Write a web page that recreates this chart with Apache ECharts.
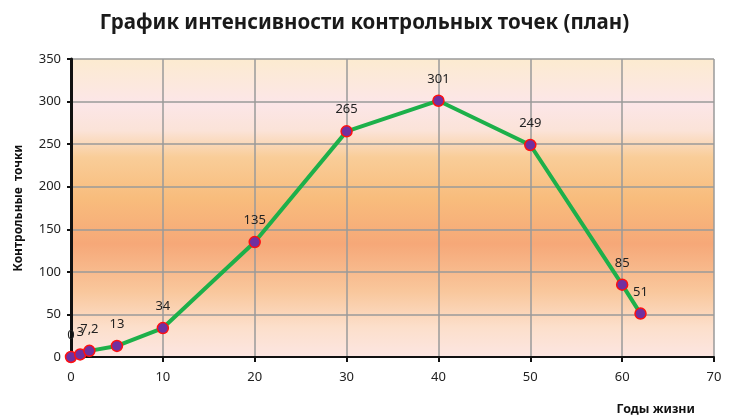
<!DOCTYPE html>
<html><head><meta charset="utf-8">
<script src="https://cdn.jsdelivr.net/npm/echarts@6/dist/echarts.min.js"></script>
<style>html,body{margin:0;padding:0;background:#fff}#c{width:729px;height:420px}</style>
</head><body><div id="c"></div>
<script>
var title = 'График интенсивности контрольных точек (план)';
var years = [0, 1, 2, 5, 10, 20, 30, 40, 50, 60, 62];
var points = [0, 3, 7.2, 13, 34, 135, 265, 301, 249, 85, 51];
var xName = 'Годы жизни';
var yName = 'Контрольные  точки';

var chart = echarts.init(document.getElementById('c'));
var font = 'Noto Sans';
chart.setOption({
  backgroundColor: '#fff',
  animation: false,
  title: {
    text: title, left: 'center', top: 8,
    textStyle: {fontFamily: font, fontSize: 20.5, fontWeight: 'bold', color: '#1a1a1a'}
  },
  grid: {
    left: 71, right: 15, top: 59, bottom: 63, show: true, borderWidth: 0,
    backgroundColor: {
      type: 'linear', x: 0, y: 0, x2: 0, y2: 1,
      colorStops: [
        {offset: 0, color: '#FCEBD0'},
        {offset: 0.15, color: '#FCE6E8'},
        {offset: 0.24, color: '#FBE3D8'},
        {offset: 0.33, color: '#F9CD98'},
        {offset: 0.47, color: '#F8BC7C'},
        {offset: 0.62, color: '#F6A878'},
        {offset: 0.78, color: '#F9C79C'},
        {offset: 0.9, color: '#FCDFCB'},
        {offset: 1, color: '#FCE6E2'}
      ]
    }
  },
  xAxis: {
    type: 'value', min: 0, max: 70, interval: 10,
    name: xName, nameLocation: 'end', nameGap: 0,
    nameTextStyle: {fontFamily: font, fontSize: 12.5, fontWeight: 'bold', color: '#111',
      align: 'right', verticalAlign: 'top', padding: [46, 19, 0, 0]},
    axisLine: {show: true, onZero: false, lineStyle: {color: '#111', width: 2}},
    axisTick: {show: true, length: 5, lineStyle: {color: '#111', width: 2}},
    axisLabel: {fontFamily: font, fontSize: 13, color: '#222', margin: 14},
    splitLine: {show: true, lineStyle: {color: '#9a9a9a', width: 1.5}}
  },
  yAxis: {
    type: 'value', min: 0, max: 350, interval: 50,
    name: yName, nameLocation: 'middle', nameGap: 46, nameRotate: 90,
    nameTextStyle: {fontFamily: font, fontSize: 12, fontWeight: 'bold', color: '#111'},
    axisLine: {show: true, lineStyle: {color: '#111', width: 3}},
    axisTick: {show: true, length: 4, lineStyle: {color: '#111', width: 2}},
    axisLabel: {fontFamily: font, fontSize: 13, color: '#222', margin: 10},
    splitLine: {show: true, lineStyle: {color: '#9a9a9a', width: 1.5}}
  },
  series: [{
    type: 'line',
    data: years.map(function (x, i) { return [x, points[i]]; }),
    lineStyle: {color: '#1DB04A', width: 4},
    symbol: 'circle', symbolSize: 11,
    itemStyle: {color: '#7030A0', borderColor: '#FF1010', borderWidth: 1.5},
    label: {
      show: true, position: 'top', distance: 9,
      fontFamily: font, fontSize: 13, color: '#222',
      formatter: function (p) { return String(p.value[1]).replace('.', ','); }
    },
    z: 5
  }]
});
</script></body></html>
